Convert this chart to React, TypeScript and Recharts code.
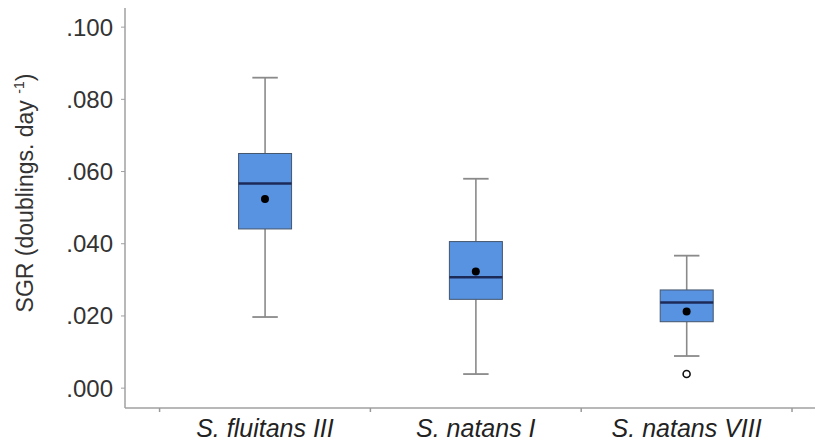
import React from 'react';
import { ComposedChart, Bar, Scatter, XAxis, YAxis } from 'recharts';

const categories = ['S. fluitans III', 'S. natans I', 'S. natans VIII'];
const positions = [0.5, 1.5, 2.5];
const whiskerLow = [0.0197, 0.0039, 0.0089];
const q1 = [0.0441, 0.0246, 0.0184];
const median = [0.0567, 0.0307, 0.0237];
const q3 = [0.065, 0.0406, 0.0272];
const whiskerHigh = [0.086, 0.058, 0.0367];
const means = [0.0524, 0.0323, 0.0212];
const outlierGroups = [2];
const outlierValues = [0.0039];
const yTicks = [0, 0.02, 0.04, 0.06, 0.08, 0.1];
const xTicks = [0, 0.5, 1, 1.5, 2, 2.5, 3];

const data = categories.map((name, i) => ({
  name,
  pos: positions[i],
  range: [whiskerLow[i], whiskerHigh[i]],
  q1: q1[i],
  median: median[i],
  q3: q3[i],
  mean: means[i],
}));

const outliers = outlierGroups.map((g, i) => ({ pos: positions[g], outlier: outlierValues[i] }));

const BoxShape = (props: any) => {
  const { x, y, width, height, payload } = props;
  const [lo, hi] = payload.range;
  const toPx = (v: number) => y + (height * (hi - v)) / (hi - lo);
  const cx = x + width / 2;
  const capHalf = width * 0.24;
  const top = toPx(payload.q3);
  const bottom = toPx(payload.q1);
  const med = toPx(payload.median);
  return (
    <g>
      <line x1={cx} x2={cx} y1={y} y2={top} stroke="#8a8a8a" strokeWidth={1.6} />
      <line x1={cx} x2={cx} y1={bottom} y2={y + height} stroke="#8a8a8a" strokeWidth={1.6} />
      <line x1={cx - capHalf} x2={cx + capHalf} y1={y} y2={y} stroke="#8a8a8a" strokeWidth={1.8} />
      <line x1={cx - capHalf} x2={cx + capHalf} y1={y + height} y2={y + height} stroke="#8a8a8a" strokeWidth={1.8} />
      <rect x={x} y={top} width={width} height={bottom - top} fill="#5893e2" stroke="#44556c" strokeWidth={1} />
      <line x1={x} x2={x + width} y1={med} y2={med} stroke="#1c2a58" strokeWidth={2.5} />
    </g>
  );
};

const XTick = (props: any) => {
  const { x, y, payload } = props;
  const v = payload.value;
  if (Number.isInteger(v)) {
    return <line x1={x} x2={x} y1={y} y2={y + 4} stroke="#9a9a9a" strokeWidth={1.5} />;
  }
  const idx = positions.indexOf(v);
  return (
    <text x={x} y={y + 29} textAnchor="middle" fontSize={25} fontStyle="italic"
      fontFamily="'Liberation Sans', Arial, sans-serif" fill="#222">
      {categories[idx]}
    </text>
  );
};

const YLabel = () => (
  <text transform="translate(33, 193) rotate(-90)" textAnchor="middle" fontSize={23}
    fontFamily="'Liberation Sans', Arial, sans-serif" fill="#333">
    SGR (doublings. day <tspan fontSize={14} dy={-9}>-1</tspan><tspan dy={9}>)</tspan>
  </text>
);

export default function App() {
  return (
    <div style={{ position: 'fixed', top: 0, left: 0, background: '#fff' }}>
      <ComposedChart width={815} height={447} data={data} margin={{ top: 8, right: 0, bottom: 0, left: 0 }}>
        <XAxis
          dataKey="pos"
          type="number"
          domain={[-0.164, 3.109]}
          allowDataOverflow
          ticks={xTicks}
          interval={0}
          height={39}
          tickSize={0}
          tickMargin={0}
          tickLine={false}
          tick={<XTick />}
          axisLine={{ stroke: '#a0a0a0', strokeWidth: 1.5 }}
        />
        <YAxis
          type="number"
          domain={[-0.0055, 0.1053]}
          allowDataOverflow
          ticks={yTicks}
          width={125}
          tickSize={4}
          tickMargin={8}
          tickFormatter={(v: number) => v.toFixed(3).replace(/^0/, '')}
          tick={{ fontSize: 24, fill: '#333', fontFamily: "'Liberation Sans', Arial, sans-serif" }}
          tickLine={{ stroke: '#a0a0a0' }}
          axisLine={{ stroke: '#a0a0a0', strokeWidth: 1.5 }}
          label={<YLabel />}
        />
        <Bar dataKey="range" barSize={53} shape={<BoxShape />} isAnimationActive={false} />
        <Scatter dataKey="mean" fill="#000" isAnimationActive={false}
          shape={(p: any) => <circle cx={p.cx} cy={p.cy} r={4} fill="#000" />} />
        <Scatter data={outliers} dataKey="outlier" isAnimationActive={false}
          shape={(p: any) => <circle cx={p.cx} cy={p.cy} r={3.5} fill="#fff" stroke="#111" strokeWidth={1.6} />} />
      </ComposedChart>
    </div>
  );
}
